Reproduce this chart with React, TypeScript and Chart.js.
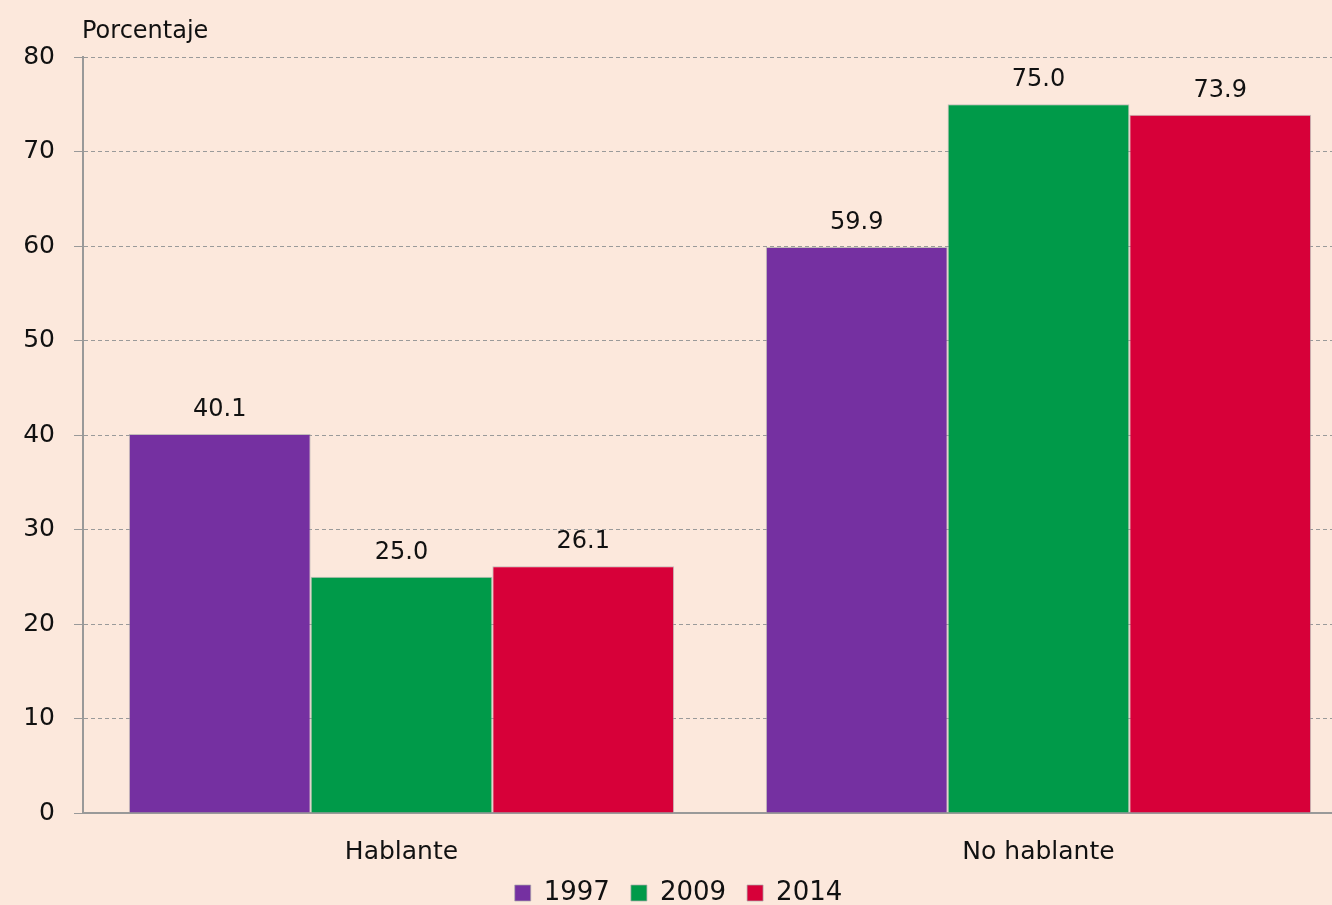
import React, { useEffect, useRef } from "react";
import { Chart, registerables } from "chart.js";

Chart.register(...registerables);

const categories = ["Hablante", "No hablante"];
const seriesNames = ["1997", "2009", "2014"];
const values1997 = [40.1, 59.9];
const values2009 = [25.0, 75.0];
const values2014 = [26.1, 73.9];
const colors = ["#7530a1", "#009a49", "#d70039"];
const yTitle = "Porcentaje";

const BG = "#fce8dc";
const FONT = "'DejaVu Sans', sans-serif";

const valueLabels = {
  id: "valueLabels",
  afterDatasetsDraw(chart: any) {
    const ctx = chart.ctx;
    ctx.save();
    ctx.font = `24px ${FONT}`;
    ctx.fillStyle = "#111";
    ctx.textAlign = "center";
    ctx.textBaseline = "alphabetic";
    chart.data.datasets.forEach((ds: any, i: number) => {
      const meta = chart.getDatasetMeta(i);
      meta.data.forEach((bar: any, j: number) => {
        ctx.fillText(Number(ds.data[j]).toFixed(1), bar.x, bar.y - 18);
      });
    });
    ctx.restore();
  },
};

const axisTitle = {
  id: "axisTitle",
  afterDraw(chart: any) {
    const ctx = chart.ctx;
    ctx.save();
    ctx.font = `24px ${FONT}`;
    ctx.fillStyle = "#111";
    ctx.textAlign = "left";
    ctx.textBaseline = "alphabetic";
    ctx.fillText(yTitle, chart.chartArea.left - 1, chart.chartArea.top - 19);
    ctx.restore();
  },
};

export default function App() {
  const ref = useRef<HTMLCanvasElement>(null);
  useEffect(() => {
    document.body.style.margin = "0";
    document.body.style.background = BG;
    const chart = new Chart(ref.current!, {
      type: "bar",
      data: {
        labels: categories,
        datasets: [values1997, values2009, values2014].map((d, i) => ({
          label: seriesNames[i],
          data: d,
          backgroundColor: colors[i],
          borderColor: "rgba(170,170,170,0.7)",
          borderWidth: 1,
          barPercentage: 1,
          categoryPercentage: 0.856,
        })),
      },
      options: {
        responsive: false,
        animation: false,
        layout: { padding: { top: 57, left: 0, right: 0, bottom: -11 } },
        plugins: {
          tooltip: { enabled: false },
          legend: {
            position: "bottom",
            labels: {
              boxWidth: 16,
              boxHeight: 16,
              padding: 21,
              color: "#111",
              font: { family: FONT, size: 26 },
            },
          },
        },
        scales: {
          x: {
            grid: { display: false },
            border: { display: true, color: "#999", width: 2 },
            ticks: { color: "#111", font: { family: FONT, size: 25 }, padding: 16 },
            afterFit(s: any) {
              s.height = 46;
            },
          },
          y: {
            min: 0,
            max: 80,
            ticks: { stepSize: 10, color: "#111", font: { family: FONT, size: 25 }, padding: 19 },
            grid: {
              color: "#9a9a9a",
              lineWidth: 1,
              tickLength: 9,
              tickBorderDash: [],
              tickColor: "#999",
            },
            border: { display: true, color: "#999", width: 2, dash: [4, 3] },
            afterFit(s: any) {
              s.width = 83;
            },
          },
        },
      },
      plugins: [valueLabels, axisTitle],
    });
    return () => chart.destroy();
  }, []);
  return (
    <div style={{ width: 1332, height: 905, overflow: "hidden", background: BG }}>
      <canvas ref={ref} width={1357} height={905} style={{ display: "block" }} />
    </div>
  );
}
